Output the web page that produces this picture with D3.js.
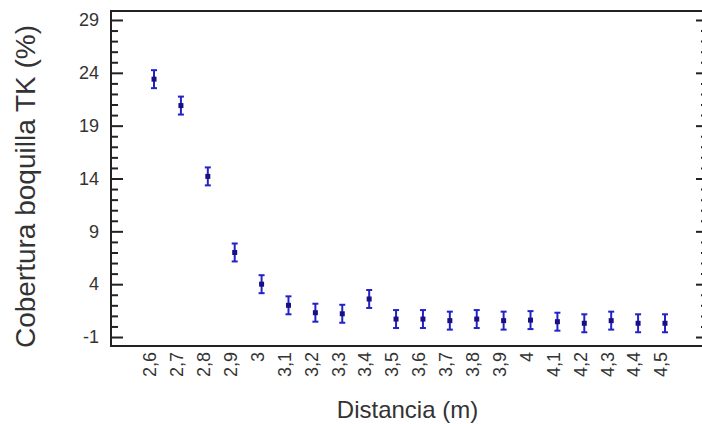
<!DOCTYPE html>
<html>
<head>
<meta charset="utf-8">
<script src="https://cdn.jsdelivr.net/npm/d3@7"></script>
<style>
  html, body { margin: 0; padding: 0; background: #fff; }
  svg { display: block; font-family: "Liberation Sans", Arial, sans-serif; }
</style>
</head>
<body>
<div id="chart"></div>
<script>
// distances (m) and their labels
const distances = [2.6, 2.7, 2.8, 2.9, 3.0, 3.1, 3.2, 3.3, 3.4, 3.5, 3.6, 3.7, 3.8, 3.9, 4.0, 4.1, 4.2, 4.3, 4.4, 4.5];
const distanceLabels = ["2,6", "2,7", "2,8", "2,9", "3", "3,1", "3,2", "3,3", "3,4", "3,5", "3,6", "3,7", "3,8", "3,9", "4", "4,1", "4,2", "4,3", "4,4", "4,5"];
// mean coverage (%) and half-width of the interval
const coverage = [23.4, 20.9, 14.2, 7.0, 4.0, 2.0, 1.3, 1.2, 2.6, 0.7, 0.7, 0.55, 0.7, 0.55, 0.6, 0.45, 0.3, 0.55, 0.3, 0.3];
const errHalf = [0.85, 0.85, 0.85, 0.85, 0.85, 0.85, 0.85, 0.85, 0.85, 0.85, 0.85, 0.85, 0.85, 0.85, 0.85, 0.85, 0.85, 0.85, 0.85, 0.85];
const yMajorTicks = [-1, 4, 9, 14, 19, 24, 29];

const width = 702, height = 424;
const mLeft = 111, mRight = 708, mTop = 11, mBottom = 346;

const svg = d3.select('#chart')
    .append('svg')
    .attr('width', width)
    .attr('height', height);

// Scales
const x = d3.scaleLinear().domain([2.44, 4.66]).range([mLeft, mRight]);
const y = d3.scaleLinear().domain([-1.85, 29.85]).range([mBottom, mTop]);

const yMinorTicks = d3.range(-1, 30).filter(v => !yMajorTicks.includes(v));

// Left axis: majors with labels, inward ticks
const yAxisLeft = svg.append('g')
    .attr('transform', `translate(${mLeft},0)`)
    .call(d3.axisLeft(y).tickValues(yMajorTicks).tickSizeInner(-12).tickSizeOuter(0).tickPadding(12)
        .tickFormat(d => String(d)));
yAxisLeft.select('.domain').remove();
yAxisLeft.selectAll('text').attr('font-size', 18).attr('fill', '#333');

svg.append('g')
    .attr('transform', `translate(${mLeft},0)`)
    .call(d3.axisLeft(y).tickValues(yMinorTicks).tickSizeInner(-7).tickSizeOuter(0).tickFormat(''))
    .select('.domain').remove();

// Right axis ticks (no labels)
svg.append('g')
    .attr('transform', `translate(${mRight},0)`)
    .call(d3.axisRight(y).tickValues(yMajorTicks).tickSizeInner(-12).tickSizeOuter(0).tickFormat(''))
    .select('.domain').remove();
svg.append('g')
    .attr('transform', `translate(${mRight},0)`)
    .call(d3.axisRight(y).tickValues(yMinorTicks).tickSizeInner(-7).tickSizeOuter(0).tickFormat(''))
    .select('.domain').remove();

svg.selectAll('.tick line').attr('stroke', '#222').attr('stroke-width', 2);

// X axis labels (rotated, no tick marks)
const xAxis = svg.append('g')
    .attr('transform', `translate(0,${mBottom})`)
    .call(d3.axisBottom(x).tickValues(distances).tickSize(0).tickFormat((d, i) => distanceLabels[i]));
xAxis.select('.domain').remove();
xAxis.selectAll('text')
    .attr('font-size', 18)
    .attr('fill', '#333')
    .attr('transform', 'rotate(-90)')
    .attr('text-anchor', 'end')
    .attr('x', -6)
    .attr('y', 0)
    .attr('dy', '0.1em');

// Frame
svg.append('rect')
    .attr('x', mLeft)
    .attr('y', mTop)
    .attr('width', mRight - mLeft)
    .attr('height', mBottom - mTop)
    .attr('fill', 'none')
    .attr('stroke', '#222')
    .attr('stroke-width', 2);

// Error bars
const pts = distances.map((d, i) => ({ d, v: coverage[i], e: errHalf[i] }));
const bars = svg.append('g').attr('stroke', '#2222c8').attr('stroke-width', 2);
bars.selectAll('line.stem')
    .data(pts)
    .join('line')
    .attr('class', 'stem')
    .attr('x1', p => x(p.d)).attr('x2', p => x(p.d))
    .attr('y1', p => y(p.v + p.e)).attr('y2', p => y(p.v - p.e));
bars.selectAll('line.capTop')
    .data(pts)
    .join('line')
    .attr('class', 'capTop')
    .attr('x1', p => x(p.d) - 3).attr('x2', p => x(p.d) + 3)
    .attr('y1', p => y(p.v + p.e)).attr('y2', p => y(p.v + p.e));
bars.selectAll('line.capBot')
    .data(pts)
    .join('line')
    .attr('class', 'capBot')
    .attr('x1', p => x(p.d) - 3).attr('x2', p => x(p.d) + 3)
    .attr('y1', p => y(p.v - p.e)).attr('y2', p => y(p.v - p.e));

// Means
svg.append('g')
    .selectAll('rect')
    .data(pts)
    .join('rect')
    .attr('x', p => x(p.d) - 2.5)
    .attr('y', p => y(p.v) - 2.5)
    .attr('width', 5)
    .attr('height', 5)
    .attr('fill', '#1a0f80');

// Axis titles
svg.append('text')
    .attr('x', (mLeft + mRight) / 2 - 2)
    .attr('y', 418)
    .attr('text-anchor', 'middle')
    .attr('font-size', 24)
    .attr('fill', '#333')
    .text('Distancia (m)');

svg.append('text')
    .attr('transform', `translate(35,${(mTop + mBottom) / 2 + 8}) rotate(-90)`)
    .attr('text-anchor', 'middle')
    .attr('font-size', 28)
    .attr('fill', '#333')
    .text('Cobertura boquilla TK (%)');
</script>
</body>
</html>
